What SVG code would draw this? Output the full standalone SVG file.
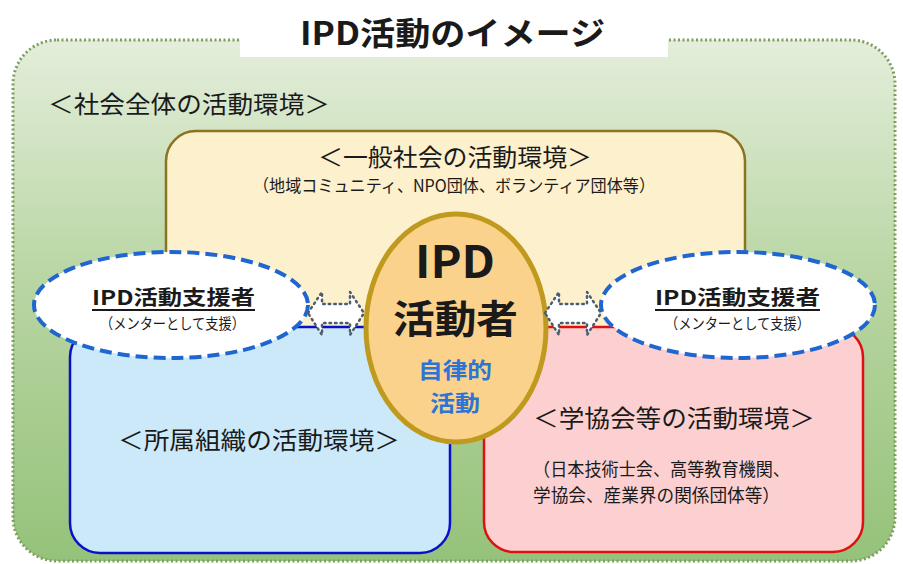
<svg xmlns="http://www.w3.org/2000/svg" width="903" height="564" viewBox="0 0 903 564">
<defs>
<linearGradient id="bg" x1="0" y1="0" x2="0" y2="1">
<stop offset="0" stop-color="#e4eedb"/>
<stop offset="0.45" stop-color="#b9d6a4"/>
<stop offset="1" stop-color="#95c27a"/>
</linearGradient>
<style>
text{font-family:"Noto Sans CJK JP","Noto Sans",sans-serif;fill:#1a1a1a}
.b{font-weight:bold}
.env{font-size:24px}
.sub{font-size:17px}
.sup{font-size:20px;font-weight:bold}
.supsub{font-size:15px}
.blue{fill:#2e74d4;font-weight:bold;font-size:22px}
.side{fill:#ffffff;stroke:#1f66d0;stroke-width:4;stroke-dasharray:12 6}
.arr{fill:#ffffff;stroke:#4d5d70;stroke-width:2.5;stroke-dasharray:1.5 4;stroke-linecap:round;stroke-linejoin:round}
</style>
</defs>
<rect width="903" height="564" fill="#ffffff"/>
<g id="society">
<rect x="13" y="40" width="882" height="521" rx="44" fill="url(#bg)" stroke="#7e9e5e" stroke-width="3" stroke-dasharray="2 2.5"/>
<text x="48" y="113" class="env" textLength="282" lengthAdjust="spacingAndGlyphs">＜社会全体の活動環境＞</text>
</g>
<g id="title">
<rect x="240" y="0" width="428" height="57" fill="#ffffff"/>
<text x="300" y="45" class="b" font-size="32" textLength="305" lengthAdjust="spacingAndGlyphs">IPD活動のイメージ</text>
</g>
<g id="general">
<rect x="166" y="131" width="579" height="210" rx="30" fill="#fdf0cc" stroke="#8a7420" stroke-width="2.5"/>
<text x="318" y="166" class="env" textLength="274" lengthAdjust="spacingAndGlyphs">＜一般社会の活動環境＞</text>
<text x="253" y="192" class="sub" textLength="402" lengthAdjust="spacingAndGlyphs">（地域コミュニティ、NPO団体、ボランティア団体等）</text>
</g>
<g id="organization">
<rect x="70" y="327" width="380" height="226" rx="30" fill="#cbe9f9" stroke="#0a10c8" stroke-width="2.5"/>
<text x="118" y="449" class="env" textLength="282" lengthAdjust="spacingAndGlyphs">＜所属組織の活動環境＞</text>
</g>
<g id="academic">
<rect x="484" y="327" width="379" height="225" rx="30" fill="#fcd0d0" stroke="#e01010" stroke-width="2.5"/>
<text x="533" y="427" class="env" textLength="282" lengthAdjust="spacingAndGlyphs">＜学協会等の活動環境＞</text>
<text x="533" y="476" font-size="18" textLength="257" lengthAdjust="spacingAndGlyphs">（日本技術士会、高等教育機関、</text>
<text x="533" y="502" font-size="18" textLength="247" lengthAdjust="spacingAndGlyphs">学協会、産業界の関係団体等）</text>
</g>
<g id="actor">
<ellipse cx="456" cy="328" rx="90" ry="114" fill="#fbd28c" stroke="#c09a1e" stroke-width="5"/>
<text x="415" y="278" font-family="'Liberation Sans',Arial,sans-serif" font-weight="bold" font-size="44" textLength="80" lengthAdjust="spacingAndGlyphs">IPD</text>
<text x="393" y="333" class="b" font-size="39" textLength="125" lengthAdjust="spacingAndGlyphs">活動者</text>
<text x="418" y="378" class="blue" textLength="74" lengthAdjust="spacingAndGlyphs">自律的</text>
<text x="430" y="411" class="blue" textLength="50" lengthAdjust="spacingAndGlyphs">活動</text>
</g>
<g id="supporter-left">
<ellipse cx="171" cy="305" rx="137" ry="53" class="side"/>
<text x="92" y="305" class="sup" textLength="163" lengthAdjust="spacingAndGlyphs">IPD活動支援者</text>
<line x1="92" y1="310" x2="255" y2="310" stroke="#1a1a1a" stroke-width="1.8"/>
<text x="100" y="329" class="supsub" textLength="145" lengthAdjust="spacingAndGlyphs">（メンターとして支援）</text>
</g>
<g id="supporter-right">
<ellipse cx="738" cy="305" rx="137" ry="53" class="side"/>
<text x="655" y="305" class="sup" textLength="165" lengthAdjust="spacingAndGlyphs">IPD活動支援者</text>
<line x1="655" y1="310" x2="820" y2="310" stroke="#1a1a1a" stroke-width="1.8"/>
<text x="665" y="329" class="supsub" textLength="145" lengthAdjust="spacingAndGlyphs">（メンターとして支援）</text>
</g>
<g id="connectors">
<path class="arr" d="M308,313 L322,292 L322,304 L350,304 L350,292 L364,313 L350,335 L350,323 L322,323 L322,335 Z"/>
<path class="arr" d="M545,313 L559,292 L559,304 L587,304 L587,292 L601,313 L587,335 L587,323 L559,323 L559,335 Z"/>
</g>
</svg>
